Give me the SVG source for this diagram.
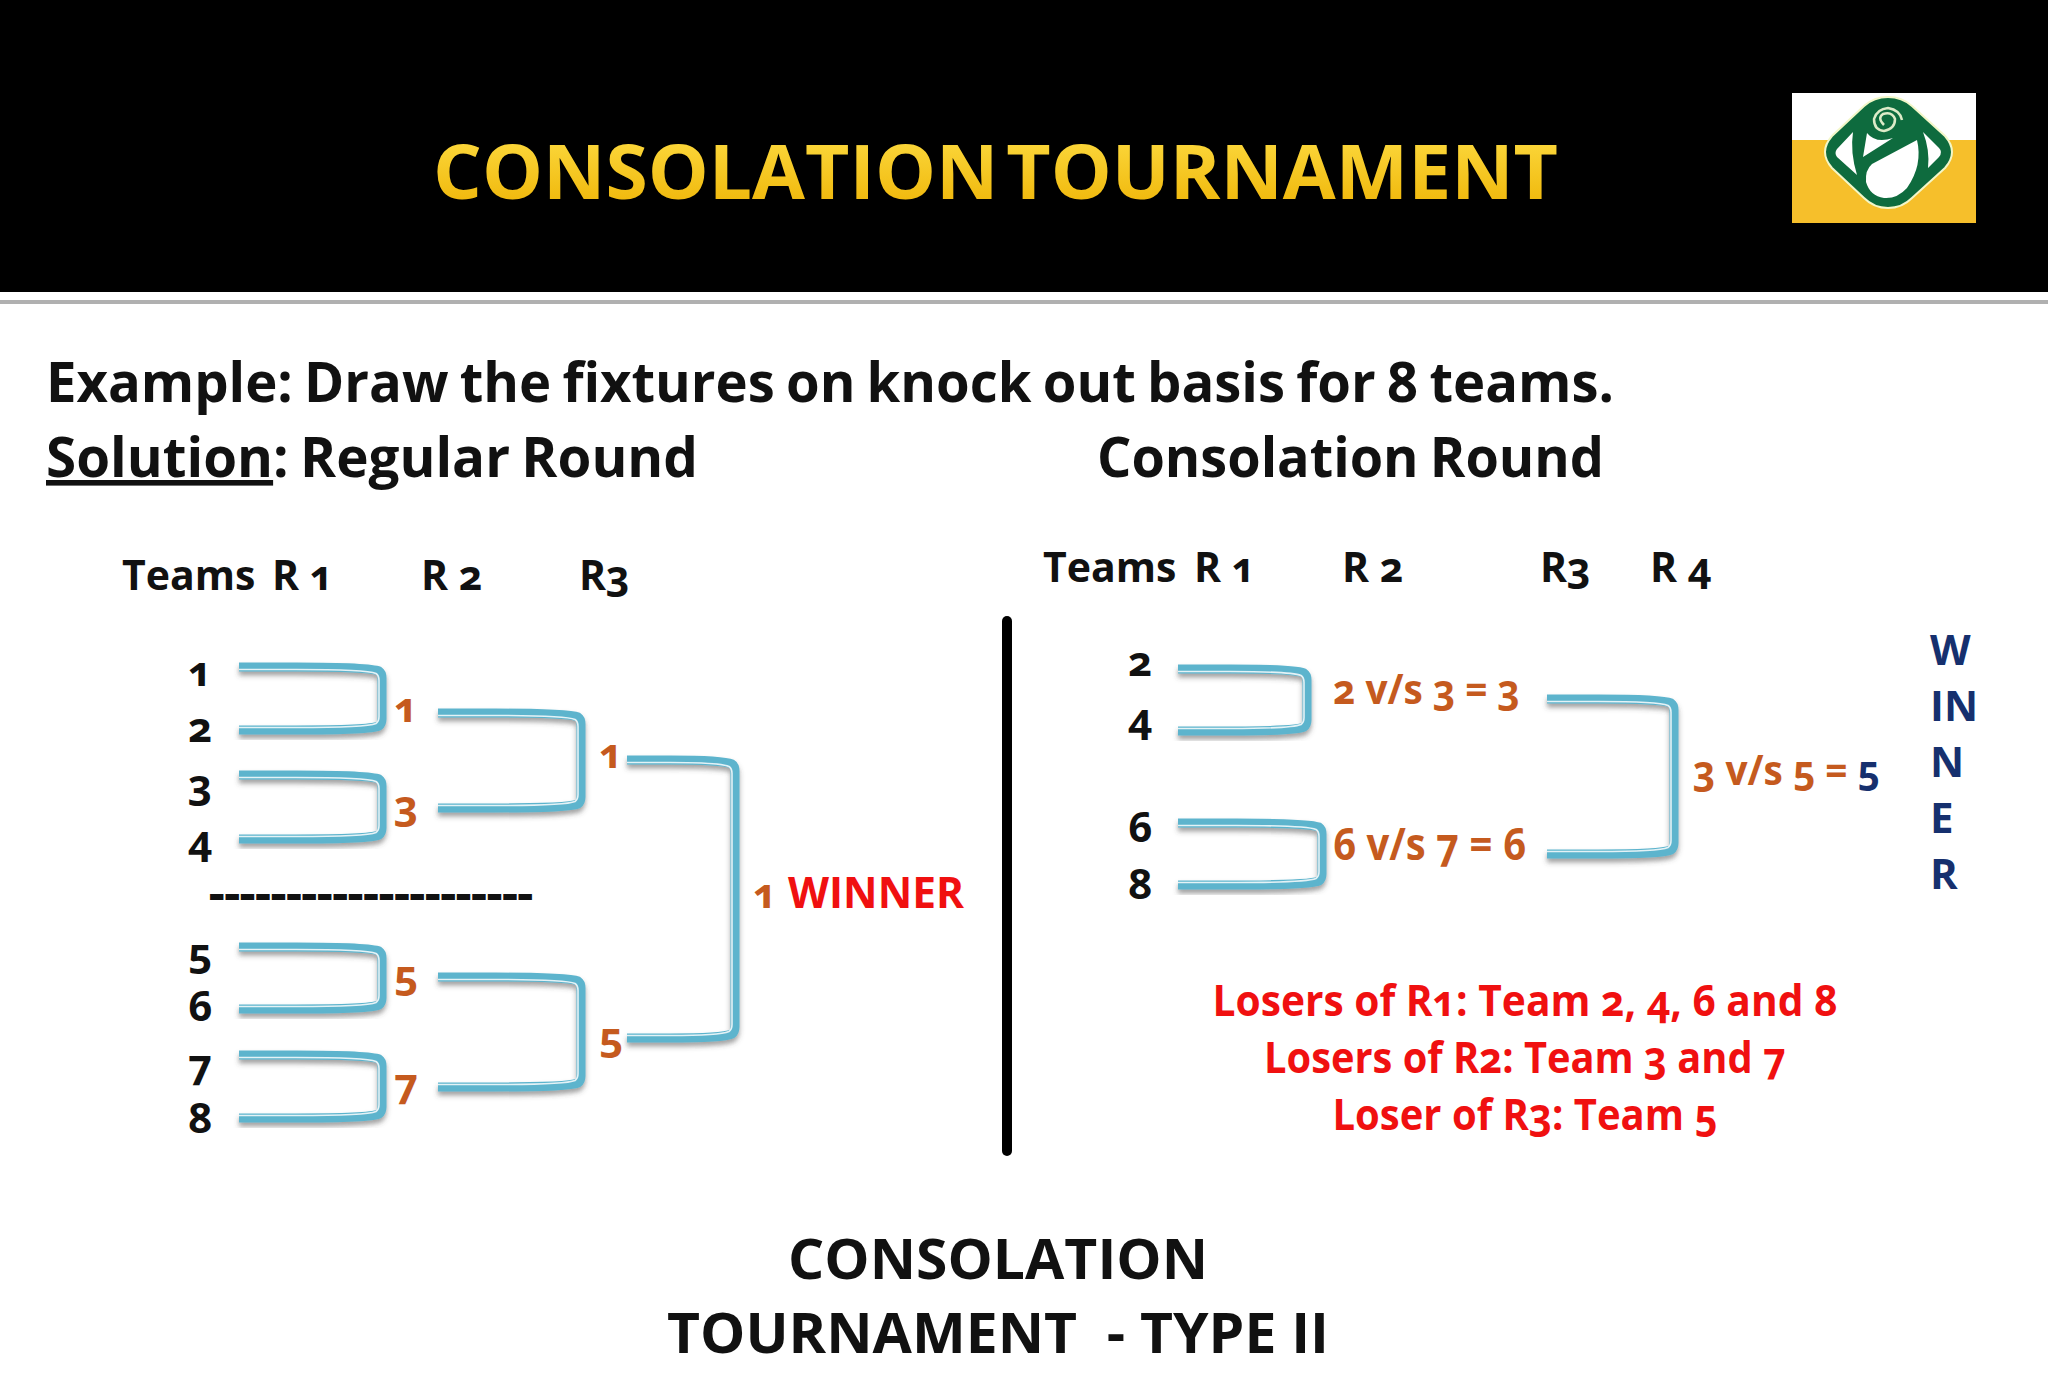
<svg xmlns="http://www.w3.org/2000/svg" width="2048" height="1397" viewBox="0 0 2048 1397">
<style>
text{font-family:"Open Sans","Noto Sans","Liberation Sans",sans-serif;font-weight:700;font-variant-numeric:oldstyle-nums;font-feature-settings:"onum" 1}
.h{font-size:56px;fill:#111;word-spacing:-3px}
.c{font-size:41px;fill:#111}
.n{font-size:42px;fill:#111}
.o{font-size:42px;fill:#C55A1E}
.r{font-size:43px;fill:#F01010;text-anchor:middle}
.w{font-size:42px;fill:#16306E}
.b{font-size:56px;fill:#111;text-anchor:middle}
.bo{fill:none;stroke:#5DB4CD;stroke-width:9;stroke-linejoin:round;filter:url(#sh)}
.bi{fill:none;stroke:#E4F2F6;stroke-width:1.6}
</style>
<defs>
<linearGradient id="gold" x1="0" y1="0" x2="0" y2="1"><stop offset="0" stop-color="#FFE14A"/><stop offset="1" stop-color="#EDB000"/></linearGradient>
<filter id="sh" x="-10%" y="-10%" width="120%" height="125%"><feDropShadow dx="0" dy="4" stdDeviation="2.5" flood-color="#444" flood-opacity=".5"/></filter>
</defs>
<rect width="2048" height="1397" fill="#fff"/>
<rect width="2048" height="292" fill="#000"/>
<rect y="300" width="2048" height="4" fill="#B0B0B0"/>
<text id="title" x="433" y="199" font-size="76" fill="url(#gold)" style="word-spacing:-12px" textLength="1125" lengthAdjust="spacingAndGlyphs">CONSOLATION TOURNAMENT</text>
<g id="logo">
<rect x="1792" y="93" width="184" height="130" fill="#F6BF2B"/>
<rect x="1792" y="93" width="184" height="47" fill="#fff"/>
<path d="M1888 97Q1902 97 1912 106L1945 136Q1952 144 1952 152Q1952 160 1945 168L1912 198Q1902 208 1888 208Q1874 208 1864 198L1832 168Q1825 160 1825 152Q1825 144 1832 136L1864 106Q1874 97 1888 97Z" fill="#0E6B3E" stroke="#F3F7C8" stroke-width="2"/>
<path d="M1853 132L1837 149Q1834 153 1837 157L1857 175Q1850 152 1853 132ZM1923 132L1939 148Q1943 152 1939 157L1928 168Q1930 150 1923 132ZM1867 133Q1876 144 1893 138L1863 157ZM1917 140Q1923 165 1907 188Q1897 199 1884 198Q1870 196 1866 182Q1865 170 1872 164Z" fill="#fff"/>
<path d="M1884 125Q1877 118 1883 114Q1892 111 1895 119Q1895 129 1884 131Q1874 130 1874 119Q1877 109 1888 108Q1900 110 1902 120" fill="none" stroke="#DDEBC8" stroke-width="2.5"/>
</g>
<text class="h" x="46" y="402" textLength="1568" lengthAdjust="spacingAndGlyphs">Example: Draw the fixtures on knock out basis for 8 teams.</text>
<text class="h" x="46" y="477" textLength="652" lengthAdjust="spacingAndGlyphs"><tspan text-decoration="underline">Solution</tspan>: Regular Round</text>
<text class="h" x="1097" y="477" textLength="507" lengthAdjust="spacingAndGlyphs">Consolation Round</text>
<g id="regular-headers">
<text class="c" x="122" y="590">Teams</text><text class="c" x="272" y="590">R 1</text><text class="c" x="421" y="590">R 2</text><text class="c" x="579" y="590">R3</text>
</g>
<g id="consolation-headers">
<text class="c" x="1043" y="582">Teams</text><text class="c" x="1194" y="582">R 1</text><text class="c" x="1342" y="582">R 2</text><text class="c" x="1540" y="582">R3</text><text class="c" x="1650" y="582">R 4</text>
</g>
<g id="regular-teams">
<text class="n" x="188" y="686">1</text><text class="n" x="188" y="742">2</text><text class="n" x="188" y="799">3</text><text class="n" x="188" y="855">4</text>
<text class="n" x="188" y="968">5</text><text class="n" x="188" y="1021">6</text><text class="n" x="188" y="1079">7</text><text class="n" x="188" y="1133">8</text>
</g>
<text id="dashes" x="209" y="908" font-size="38" fill="#111" style="font-weight:800" textLength="324" lengthAdjust="spacingAndGlyphs">---------------------</text>
<g id="regular-winners">
<text class="o" x="394" y="722">1</text><text class="o" x="394" y="820">3</text><text class="o" x="394" y="990">5</text><text class="o" x="394" y="1098">7</text>
<text class="o" x="599" y="768">1</text><text class="o" x="599" y="1052">5</text>
<text class="o" x="753" y="908">1</text><text x="788" y="908" font-size="43" fill="#F01010" textLength="176" lengthAdjust="spacingAndGlyphs">WINNER</text>
</g>
<g id="divider"><line x1="1007" y1="621" x2="1007" y2="1151" stroke="#000" stroke-width="10" stroke-linecap="round"/></g>
<g id="consolation-teams">
<text class="n" x="1128" y="676">2</text><text class="n" x="1128" y="733">4</text><text class="n" x="1128" y="842">6</text><text class="n" x="1128" y="899">8</text>
</g>
<g id="consolation-results">
<text class="o" x="1333" y="704" textLength="187" lengthAdjust="spacingAndGlyphs">2 v/s 3 = 3</text><text class="o" x="1333" y="860" style="font-size:44px" textLength="193" lengthAdjust="spacingAndGlyphs">6 v/s 7 = 6</text>
<text class="o" x="1693" y="785" textLength="187" lengthAdjust="spacingAndGlyphs">3 v/s 5 = <tspan fill="#16306E">5</tspan></text>
</g>
<g id="connectors">
<path class="bo" d="M239 667H296c43 0 76 1 83 4q3 2 3 7V719q0 5-3 7c-7 3-40 4-83 4H239"/><path class="bi" d="M239 669.5H296c43 0 73 1 80 4q3 2 3 7V716.5q0 5-3 7c-7 3-37 4-80 4H239"/>
<path class="bo" d="M239 775H296c43 0 76 1 83 4q3 2 3 7V828q0 5-3 7c-7 3-40 4-83 4H239"/><path class="bi" d="M239 777.5H296c43 0 73 1 80 4q3 2 3 7V825.5q0 5-3 7c-7 3-37 4-80 4H239"/>
<path class="bo" d="M239 947H296c43 0 76 1 83 4q3 2 3 7V998q0 5-3 7c-7 3-40 4-83 4H239"/><path class="bi" d="M239 949.5H296c43 0 73 1 80 4q3 2 3 7V995.5q0 5-3 7c-7 3-37 4-80 4H239"/>
<path class="bo" d="M239 1055H296c43 0 76 1 83 4q3 2 3 7V1107q0 5-3 7c-7 3-40 4-83 4H239"/><path class="bi" d="M239 1057.5H296c43 0 73 1 80 4q3 2 3 7V1104.5q0 5-3 7c-7 3-37 4-80 4H239"/>
<path class="bo" d="M438 713H495c43 0 76 1 83 4q3 2 3 7V797q0 5-3 7c-7 3-40 4-83 4H438"/><path class="bi" d="M438 715.5H495c43 0 73 1 80 4q3 2 3 7V794.5q0 5-3 7c-7 3-37 4-80 4H438"/>
<path class="bo" d="M438 977H495c43 0 76 1 83 4q3 2 3 7V1076q0 5-3 7c-7 3-40 4-83 4H438"/><path class="bi" d="M438 979.5H495c43 0 73 1 80 4q3 2 3 7V1073.5q0 5-3 7c-7 3-37 4-80 4H438"/>
<path class="bo" d="M627 760H670c33 0 55 1 62 4q3 2 3 7V1027q0 5-3 7c-7 3-29 4-62 4H627"/><path class="bi" d="M627 762.5H670c33 0 52 1 59 4q3 2 3 7V1024.5q0 5-3 7c-7 3-26 4-59 4H627"/>
<path class="bo" d="M1178 669H1230c38 0 67 1 74 4q3 2 3 7V720q0 5-3 7c-7 3-36 4-74 4H1178"/><path class="bi" d="M1178 671.5H1230c38 0 64 1 71 4q3 2 3 7V717.5q0 5-3 7c-7 3-33 4-71 4H1178"/>
<path class="bo" d="M1178 823H1236c43 0 76 1 83 4q3 2 3 7V874q0 5-3 7c-7 3-40 4-83 4H1178"/><path class="bi" d="M1178 825.5H1236c43 0 73 1 80 4q3 2 3 7V871.5q0 5-3 7c-7 3-37 4-80 4H1178"/>
<path class="bo" d="M1547 699H1598c38 0 66 1 73 4q3 2 3 7V843q0 5-3 7c-7 3-35 4-73 4H1547"/><path class="bi" d="M1547 701.5H1598c38 0 63 1 70 4q3 2 3 7V840.5q0 5-3 7c-7 3-32 4-70 4H1547"/>
</g>
<g id="losers">
<text class="r" x="1525" y="1016" textLength="625" lengthAdjust="spacingAndGlyphs">Losers of R1: Team 2, 4, 6 and 8</text>
<text class="r" x="1525" y="1073" textLength="522" lengthAdjust="spacingAndGlyphs">Losers of R2: Team 3 and 7</text>
<text class="r" x="1525" y="1130" textLength="385" lengthAdjust="spacingAndGlyphs">Loser of R3: Team 5</text>
</g>
<g id="winner-vertical">
<text class="w" x="1930" y="665">W</text><text class="w" x="1930" y="721">IN</text><text class="w" x="1930" y="777">N</text><text class="w" x="1930" y="833">E</text><text class="w" x="1930" y="889">R</text>
</g>
<text class="b" x="998" y="1279" textLength="420" lengthAdjust="spacingAndGlyphs">CONSOLATION</text>
<text class="b" x="998" y="1353" xml:space="preserve" textLength="662" lengthAdjust="spacingAndGlyphs">TOURNAMENT  - TYPE II</text>
</svg>
